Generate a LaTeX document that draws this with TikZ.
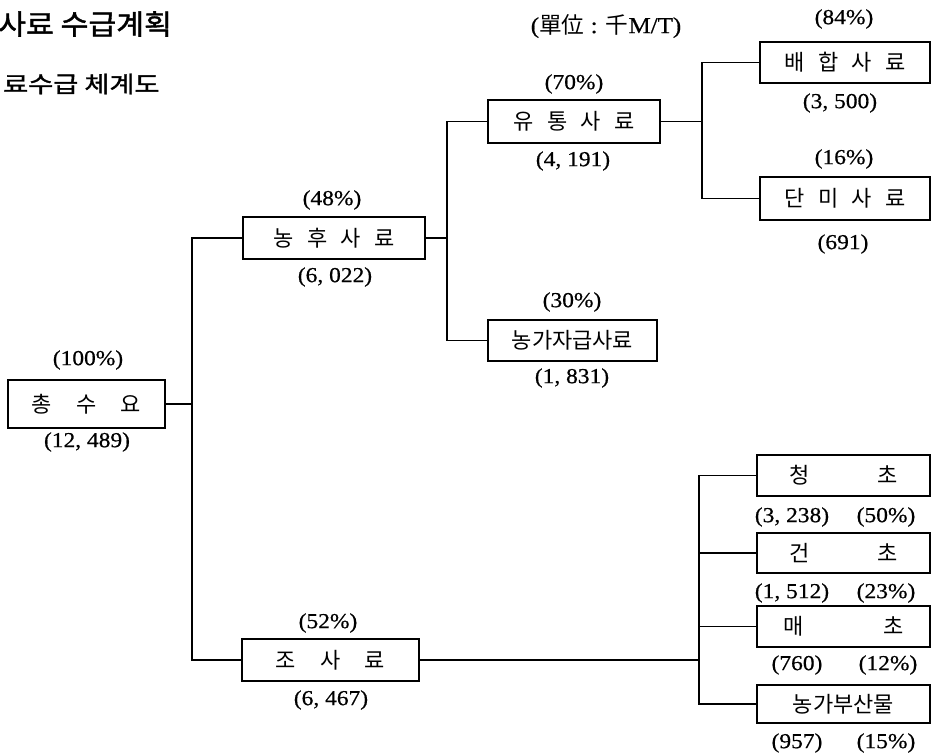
\documentclass[tikz,border=0pt]{standalone}
\usepackage{fontspec}
\setmainfont[FakeStretch=1.1, FakeBold=0.6]{Liberation Serif}
\newfontfamily\kr{Noto Sans CJK KR}
\newfontfamily\krbold[FakeBold=1.5, FakeStretch=1.08]{Noto Sans CJK KR}
\newfontfamily\krboldw[FakeBold=1.5, FakeStretch=1.2]{Noto Sans CJK KR}
\tikzset{
  box/.style={draw, line width=1.1pt, inner sep=0pt, font=\kr\fontsize{16.5}{18}\selectfont},
  wh/.style 2 args={minimum width=#1*0.75pt, minimum height=#2*0.75pt},
  lab/.style={inner sep=0pt, font=\fontsize{16}{18}\selectfont},
  conn/.style={line width=1.1pt},
}
\begin{document}
\begin{tikzpicture}[x=0.75pt, y=-0.75pt]
\useasboundingbox (0,0) rectangle (931,755);
% titles
\node[anchor=west, inner sep=0pt, font=\krbold\fontsize{21}{24}\selectfont] (t1) at (-2,24) {사료 수급계획};
\node[anchor=west, inner sep=0pt, font=\krboldw\fontsize{17}{20}\selectfont] (t2) at (3,84) {료수급 체계도};
\node[lab, font=\fontsize{17}{19}\selectfont] (unit) at (606,26) {({\kr 單位} : {\kr 千}M/T)};
% boxes
\node[box, wh={157}{48}] (tot) at (86.5,404) {총\hspace{1.1em}수\hspace{1.1em}요};
\node[box, wh={182}{42}] (nh) at (334,238) {농\hspace{0.6em}후\hspace{0.6em}사\hspace{0.6em}료};
\node[box, wh={172}{43}] (yt) at (574,121.5) {유\hspace{0.6em}통\hspace{0.6em}사\hspace{0.6em}료};
\node[box, wh={170}{41}] (bh) at (845,62.5) {배\hspace{0.6em}합\hspace{0.6em}사\hspace{0.6em}료};
\node[box, wh={170}{43}] (dm) at (845,198.5) {단\hspace{0.6em}미\hspace{0.6em}사\hspace{0.6em}료};
\node[box, wh={169}{41}] (ng) at (572.5,340.5) {농가자급사료};
\node[box, wh={177}{42}] (js) at (330.5,660) {조\hspace{1.1em}사\hspace{1.1em}료};
\node[box, wh={173}{41}] (cc) at (843.5,475.5) {청\hspace{3.1em}초};
\node[box, wh={173}{40}] (gc) at (843.5,553) {건\hspace{3.1em}초};
\node[box, wh={173}{41}] (mc) at (843.5,626.5) {매\hspace{3.6em}초};
\node[box, wh={173}{38}] (nb) at (843.5,704) {농가부산물};
% labels
\node[lab] (ptot) at (88,360) {(100\%)};
\node[lab] (vtot) at (87,442) {(12, 489)};
\node[lab] (pnh) at (332,200) {(48\%)};
\node[lab] (vnh) at (335,277) {(6, 022)};
\node[lab] (pyt) at (574,84) {(70\%)};
\node[lab] (vyt) at (573,161) {(4, 191)};
\node[lab] (pbh) at (844,19) {(84\%)};
\node[lab] (vbh) at (840,103) {(3, 500)};
\node[lab] (pdm) at (844,159) {(16\%)};
\node[lab] (vdm) at (843,244) {(691)};
\node[lab] (png) at (572,302) {(30\%)};
\node[lab] (vng) at (572,378) {(1, 831)};
\node[lab] (pjs) at (328,623) {(52\%)};
\node[lab] (vjs) at (331,700) {(6, 467)};
\node[lab] (vcc) at (792,517) {(3, 238)};
\node[lab] (pcc) at (886,517) {(50\%)};
\node[lab] (vgc) at (792,593) {(1, 512)};
\node[lab] (pgc) at (886,593) {(23\%)};
\node[lab] (vmc) at (797,665) {(760)};
\node[lab] (pmc) at (888,665) {(12\%)};
\node[lab] (vnb) at (797,743) {(957)};
\node[lab] (pnb) at (886,743) {(15\%)};
% junctions
\coordinate (j1) at (192,404);
\coordinate (j2) at (447,238);
\coordinate (j3) at (702,121.5);
\coordinate (j4) at (699,660);
% connectors
\draw[conn] (tot.east) -- (j1);
\draw[conn] (nh.west) -| (j1);
\draw[conn] (js.west) -| (j1);
\draw[conn] (nh.east) -- (j2);
\draw[conn] (yt.west) -| (j2);
\draw[conn] (ng.west) -| (j2);
\draw[conn] (yt.east) -- (j3);
\draw[conn] (bh.west) -| (j3);
\draw[conn] (dm.west) -| (j3);
\draw[conn] (js.east) -- (j4);
\draw[conn] (cc.west) -| (j4);
\draw[conn] (gc.west) -| (j4);
\draw[conn] (mc.west) -| (j4);
\draw[conn] (nb.west) -| (j4);
\end{tikzpicture}
\end{document}
